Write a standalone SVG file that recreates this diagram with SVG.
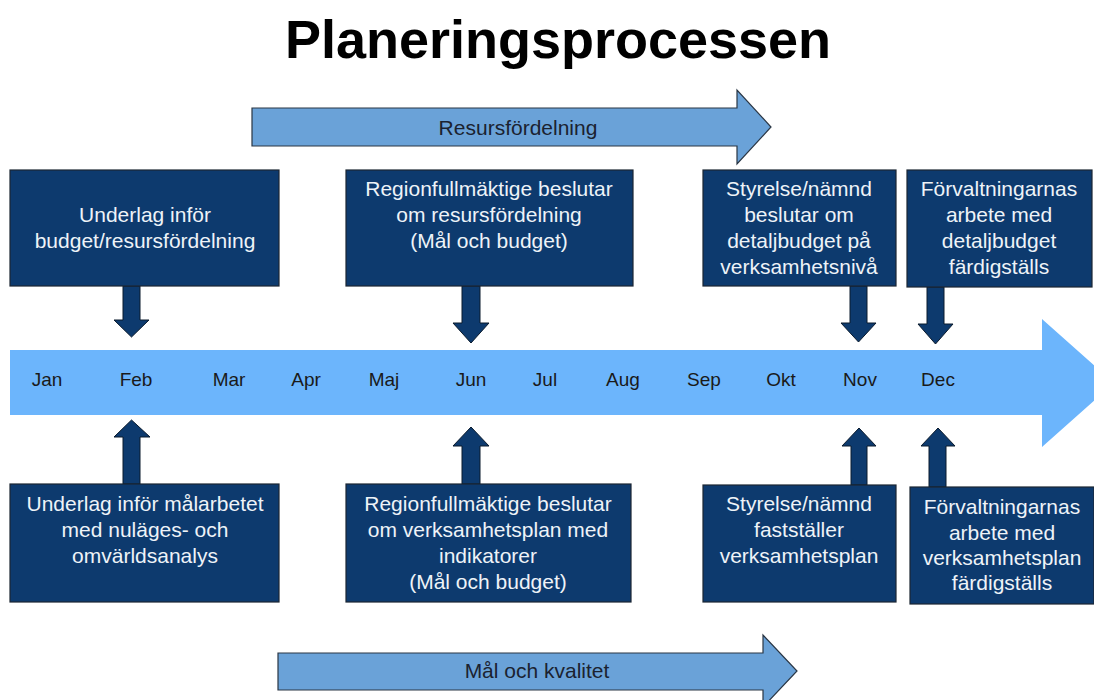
<svg xmlns="http://www.w3.org/2000/svg" width="1094" height="700" viewBox="0 0 1094 700">
<defs>
<style>
.title{font-family:"Liberation Sans",Arial,sans-serif;font-weight:bold;font-size:54px;fill:#000;text-anchor:middle}
.box{fill:#0d3a6e;stroke:#1b2633;stroke-width:1.2}
.bt{font-family:"Liberation Sans",Arial,sans-serif;font-size:21px;fill:#eef3f8;text-anchor:middle}
.mon{font-family:"Liberation Sans",Arial,sans-serif;font-size:19px;fill:#1a1a1a;text-anchor:middle}
.band{fill:#6aa2d8;stroke:#2a3644;stroke-width:1.2}
.bl{font-family:"Liberation Sans",Arial,sans-serif;font-size:21px;fill:#1b2230;text-anchor:middle}
.axis{fill:#6cb5fc}
.ar{fill:#0d3a6e;stroke:#0a1a2c;stroke-width:1}
</style>
</defs>
<rect width="1094" height="700" fill="#ffffff"/>
<text class="title" x="558" y="58">Planeringsprocessen</text>

<g id="resursfordelning">
<polygon class="band" points="252,108 737,108 737,90 771,127 737,164 737,146 252,146"/>
<text class="bl" x="518" y="135">Resursfördelning</text>
</g>

<g id="timeline">
<polygon class="axis" points="10,350 1042,350 1042,319 1114,383 1042,447 1042,415 10,415"/>
<text class="mon" x="47" y="386">Jan</text>
<text class="mon" x="136" y="386">Feb</text>
<text class="mon" x="229" y="386">Mar</text>
<text class="mon" x="306" y="386">Apr</text>
<text class="mon" x="384" y="386">Maj</text>
<text class="mon" x="471" y="386">Jun</text>
<text class="mon" x="545" y="386">Jul</text>
<text class="mon" x="623" y="386">Aug</text>
<text class="mon" x="704" y="386">Sep</text>
<text class="mon" x="781" y="386">Okt</text>
<text class="mon" x="860" y="386">Nov</text>
<text class="mon" x="938" y="386">Dec</text>
</g>

<g id="malochkvalitet">
<polygon class="band" points="278,653 763,653 763,635 797,671 763,707 763,690 278,690"/>
<text class="bl" x="537" y="678">Mål och kvalitet</text>
</g>

<g id="connectors">
<polygon class="ar" points="123,286 140,286 140,320 149,320 131.5,337 114,320 123,320"/>
<polygon class="ar" points="462,286 480,286 480,323 489,323 471,343 453,323 462,323"/>
<polygon class="ar" points="850,286 867,286 867,323 876,323 858.5,342 841,323 850,323"/>
<polygon class="ar" points="927,287 944,287 944,324 953,324 935.5,344 918,324 927,324"/>
<polygon class="ar" points="123,484 140,484 140,437 150,437 131.5,420 114,437 123,437"/>
<polygon class="ar" points="462,484 480,484 480,446 489,446 471,427 453,446 462,446"/>
<polygon class="ar" points="851,485 867,485 867,446 876,446 859,428 842,446 851,446"/>
<polygon class="ar" points="929,487 946,487 946,446 955,446 938,428 921,446 929,446"/>
</g>

<g id="box-underlag-budget">
<rect class="box" x="10" y="170" width="269" height="116"/>
<text class="bt" x="145" y="222">Underlag inför</text>
<text class="bt" x="145" y="248">budget/resursfördelning</text>
</g>
<g id="box-rf-resurs">
<rect class="box" x="346" y="170" width="287" height="116"/>
<text class="bt" x="489" y="196">Regionfullmäktige beslutar</text>
<text class="bt" x="489" y="222">om resursfördelning</text>
<text class="bt" x="489" y="248">(Mål och budget)</text>
</g>
<g id="box-styrelse-detaljbudget">
<rect class="box" x="703" y="170" width="193" height="116"/>
<text class="bt" x="799" y="196">Styrelse/nämnd</text>
<text class="bt" x="799" y="222">beslutar om</text>
<text class="bt" x="799" y="248">detaljbudget på</text>
<text class="bt" x="799" y="274">verksamhetsnivå</text>
</g>
<g id="box-forv-detaljbudget">
<rect class="box" x="907" y="170" width="185" height="117"/>
<text class="bt" x="999" y="196">Förvaltningarnas</text>
<text class="bt" x="999" y="222">arbete med</text>
<text class="bt" x="999" y="248">detaljbudget</text>
<text class="bt" x="999" y="274">färdigställs</text>
</g>

<g id="box-underlag-mal">
<rect class="box" x="10" y="484" width="269" height="118"/>
<text class="bt" x="145" y="511">Underlag inför målarbetet</text>
<text class="bt" x="145" y="537">med nuläges- och</text>
<text class="bt" x="145" y="563">omvärldsanalys</text>
</g>
<g id="box-rf-verksamhetsplan">
<rect class="box" x="346" y="484" width="285" height="118"/>
<text class="bt" x="488" y="511">Regionfullmäktige beslutar</text>
<text class="bt" x="488" y="537">om verksamhetsplan med</text>
<text class="bt" x="488" y="563">indikatorer</text>
<text class="bt" x="488" y="589">(Mål och budget)</text>
</g>
<g id="box-styrelse-verksamhetsplan">
<rect class="box" x="703" y="485" width="193" height="117"/>
<text class="bt" x="799" y="511">Styrelse/nämnd</text>
<text class="bt" x="799" y="537">fastställer</text>
<text class="bt" x="799" y="563">verksamhetsplan</text>
</g>
<g id="box-forv-verksamhetsplan">
<rect class="box" x="910" y="487" width="184" height="117"/>
<text class="bt" x="1002" y="514">Förvaltningarnas</text>
<text class="bt" x="1002" y="540">arbete med</text>
<text class="bt" x="1002" y="565">verksamhetsplan</text>
<text class="bt" x="1002" y="590">färdigställs</text>
</g>
</svg>
